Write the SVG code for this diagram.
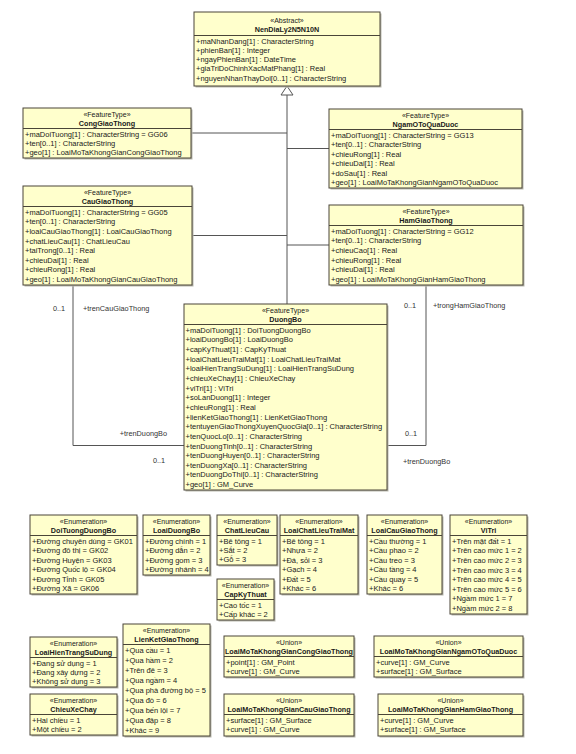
<svg xmlns="http://www.w3.org/2000/svg" width="576" height="754" viewBox="0 0 576 754">
<style>
text{font-family:"Liberation Sans",Arial,"DejaVu Sans",sans-serif;fill:#1a1a1a}
.st{font-size:7px;text-anchor:middle}
.nm{font-size:7.2px;font-weight:bold;text-anchor:middle}
.at{font-size:7.5px}
.lb{font-size:7.3px;fill:#333}
.box{fill:#FFFFCC;stroke:#4a4538;stroke-width:1}
.sh{fill:#b9b9ad}
.dv{stroke:#4a4538;stroke-width:1}
.cn{fill:none;stroke:#555;stroke-width:1}
</style>
<rect width="576" height="754" fill="#fff"/>

<g id="connectors">
<path class="cn" d="M287,95 V304 M191,133 H287 M287,148.5 H329 M192,235.5 H287 M287,245 H329"/>
<polygon points="287,86 281,95 293,95" fill="#fff" stroke="#555" stroke-width="1"/>
<polyline class="cn" points="73,285 73,445.5 184,445.5"/>
<polyline class="cn" points="426,285 426,445.5 387,445.5"/>
<text class="lb" x="53" y="310.5">0..1</text>
<text class="lb" x="83" y="310.5">+trenCauGiaoThong</text>
<text class="lb" x="167" y="435.5" text-anchor="end">+trenDuongBo</text>
<text class="lb" x="153" y="462.5">0..1</text>
<text class="lb" x="404" y="307.5">0..1</text>
<text class="lb" x="433" y="307.5">+trongHamGiaoThong</text>
<text class="lb" x="405" y="435.5">0..1</text>
<text class="lb" x="403" y="463.5">+trenDuongBo</text>
</g>

<g id="NenDiaLy2N5N10N">
<rect class="sh" x="195.5" y="13.5" width="186" height="74"/>
<rect class="box" x="194" y="12" width="186" height="74"/>
<text class="st" x="287" y="22.5">«Abstract»</text>
<text class="nm" x="287" y="32">NenDiaLy2N5N10N</text>
<line class="dv" x1="194" y1="35.5" x2="380" y2="35.5"/>
<text class="at" x="196" y="43.7">+maNhanDang[1] : CharacterString</text>
<text class="at" x="196" y="52.9">+phienBan[1] : Integer</text>
<text class="at" x="196" y="62.1">+ngayPhienBan[1] : DateTime</text>
<text class="at" x="196" y="71.3">+giaTriDoChinhXacMatPhang[1] : Real</text>
<text class="at" x="196" y="80.5">+nguyenNhanThayDoi[0..1] : CharacterString</text>
</g>

<g id="CongGiaoThong">
<rect class="sh" x="24.5" y="109.5" width="168" height="50"/>
<rect class="box" x="23" y="108" width="168" height="50"/>
<text class="st" x="107" y="117">«FeatureType»</text>
<text class="nm" x="107" y="125.6">CongGiaoThong</text>
<line class="dv" x1="23" y1="128.5" x2="191" y2="128.5"/>
<text class="at" x="25" y="136.6">+maDoiTuong[1] : CharacterString = GG06</text>
<text class="at" x="25" y="145.85">+ten[0..1] : CharacterString</text>
<text class="at" x="25" y="155.1">+geo[1] : LoaiMoTaKhongGianCongGiaoThong</text>
</g>

<g id="NgamOToQuaDuoc">
<rect class="sh" x="330.5" y="110.5" width="193" height="79"/>
<rect class="box" x="329" y="109" width="193" height="79"/>
<text class="st" x="425.5" y="118">«FeatureType»</text>
<text class="nm" x="425.5" y="126.6">NgamOToQuaDuoc</text>
<line class="dv" x1="329" y1="129.5" x2="522" y2="129.5"/>
<text class="at" x="331" y="137.6">+maDoiTuong[1] : CharacterString = GG13</text>
<text class="at" x="331" y="147.1">+ten[0..1] : CharacterString</text>
<text class="at" x="331" y="156.6">+chieuRong[1] : Real</text>
<text class="at" x="331" y="166.1">+chieuDai[1] : Real</text>
<text class="at" x="331" y="175.6">+doSau[1] : Real</text>
<text class="at" x="331" y="185.1">+geo[1] : LoaiMoTaKhongGianNgamOToQuaDuoc</text>
</g>

<g id="CauGiaoThong">
<rect class="sh" x="24.5" y="187.5" width="169" height="99"/>
<rect class="box" x="23" y="186" width="169" height="99"/>
<text class="st" x="107.5" y="195">«FeatureType»</text>
<text class="nm" x="107.5" y="203.6">CauGiaoThong</text>
<line class="dv" x1="23" y1="206.5" x2="192" y2="206.5"/>
<text class="at" x="25" y="214.6">+maDoiTuong[1] : CharacterString = GG05</text>
<text class="at" x="25" y="224.2">+ten[0..1] : CharacterString</text>
<text class="at" x="25" y="233.9">+loaiCauGiaoThong[1] : LoaiCauGiaoThong</text>
<text class="at" x="25" y="243.5">+chatLieuCau[1] : ChatLieuCau</text>
<text class="at" x="25" y="253.2">+taiTrong[0..1] : Real</text>
<text class="at" x="25" y="262.8">+chieuDai[1] : Real</text>
<text class="at" x="25" y="272.4">+chieuRong[1] : Real</text>
<text class="at" x="25" y="282.1">+geo[1] : LoaiMoTaKhongGianCauGiaoThong</text>
</g>

<g id="HamGiaoThong">
<rect class="sh" x="330.5" y="206.5" width="194" height="80"/>
<rect class="box" x="329" y="205" width="194" height="80"/>
<text class="st" x="426" y="214">«FeatureType»</text>
<text class="nm" x="426" y="222.6">HamGiaoThong</text>
<line class="dv" x1="329" y1="225.5" x2="523" y2="225.5"/>
<text class="at" x="331" y="233.6">+maDoiTuong[1] : CharacterString = GG12</text>
<text class="at" x="331" y="243.3">+ten[0..1] : CharacterString</text>
<text class="at" x="331" y="253">+chieuCao[1] : Real</text>
<text class="at" x="331" y="262.7">+chieuRong[1] : Real</text>
<text class="at" x="331" y="272.4">+chieuDai[1] : Real</text>
<text class="at" x="331" y="282.1">+geo[1] : LoaiMoTaKhongGianHamGiaoThong</text>
</g>

<g id="DuongBo">
<rect class="sh" x="185.5" y="305.5" width="203" height="186"/>
<rect class="box" x="184" y="304" width="203" height="186"/>
<text class="st" x="285.5" y="313">«FeatureType»</text>
<text class="nm" x="285.5" y="321.6">DuongBo</text>
<line class="dv" x1="184" y1="324.5" x2="387" y2="324.5"/>
<text class="at" x="185.5" y="332.6">+maDoiTuong[1] : DoiTuongDuongBo</text>
<text class="at" x="185.5" y="342.3">+loaiDuongBo[1] : LoaiDuongBo</text>
<text class="at" x="185.5" y="351.9">+capKyThuat[1] : CapKyThuat</text>
<text class="at" x="185.5" y="361.6">+loaiChatLieuTraiMat[1] : LoaiChatLieuTraiMat</text>
<text class="at" x="185.5" y="371.2">+loaiHienTrangSuDung[1] : LoaiHienTrangSuDung</text>
<text class="at" x="185.5" y="380.9">+chieuXeChay[1] : ChieuXeChay</text>
<text class="at" x="185.5" y="390.5">+viTri[1] : ViTri</text>
<text class="at" x="185.5" y="400.2">+soLanDuong[1] : Integer</text>
<text class="at" x="185.5" y="409.9">+chieuRong[1] : Real</text>
<text class="at" x="185.5" y="419.5">+lienKetGiaoThong[1] : LienKetGiaoThong</text>
<text class="at" x="185.5" y="429.2">+tentuyenGiaoThongXuyenQuocGia[0..1] : CharacterString</text>
<text class="at" x="185.5" y="438.8">+tenQuocLo[0..1] : CharacterString</text>
<text class="at" x="185.5" y="448.5">+tenDuongTinh[0..1] : CharacterString</text>
<text class="at" x="185.5" y="458.1">+tenDuongHuyen[0..1] : CharacterString</text>
<text class="at" x="185.5" y="467.8">+tenDuongXa[0..1] : CharacterString</text>
<text class="at" x="185.5" y="477.4">+tenDuongDoThi[0..1] : CharacterString</text>
<text class="at" x="185.5" y="487.1">+geo[1] : GM_Curve</text>
</g>

<g id="DoiTuongDuongBo">
<rect class="sh" x="31.5" y="516.5" width="107" height="79"/>
<rect class="box" x="30" y="515" width="107" height="79"/>
<text class="st" x="83.5" y="524">«Enumeration»</text>
<text class="nm" x="83.5" y="532.6">DoiTuongDuongBo</text>
<line class="dv" x1="30" y1="535.5" x2="137" y2="535.5"/>
<text class="at" x="32" y="543.6">+Đường chuyên dùng = GK01</text>
<text class="at" x="32" y="553.1">+Đường đô thị = GK02</text>
<text class="at" x="32" y="562.6">+Đường Huyện = GK03</text>
<text class="at" x="32" y="572.1">+Đường Quốc lộ = GK04</text>
<text class="at" x="32" y="581.6">+Đường Tỉnh = GK05</text>
<text class="at" x="32" y="591.1">+Đường Xã = GK06</text>
</g>

<g id="LoaiDuongBo">
<rect class="sh" x="144.5" y="516.5" width="67" height="60"/>
<rect class="box" x="143" y="515" width="67" height="60"/>
<text class="st" x="176.5" y="524">«Enumeration»</text>
<text class="nm" x="176.5" y="532.6">LoaiDuongBo</text>
<line class="dv" x1="143" y1="535.5" x2="210" y2="535.5"/>
<text class="at" x="145" y="543.6">+Đường chính = 1</text>
<text class="at" x="145" y="553.1">+Đường dẫn = 2</text>
<text class="at" x="145" y="562.6">+Đường gom = 3</text>
<text class="at" x="145" y="572.1">+Đường nhánh = 4</text>
</g>

<g id="ChatLieuCau">
<rect class="sh" x="218.5" y="516.5" width="60" height="50"/>
<rect class="box" x="217" y="515" width="60" height="50"/>
<text class="st" x="247" y="524">«Enumeration»</text>
<text class="nm" x="247" y="532.6">ChatLieuCau</text>
<line class="dv" x1="217" y1="535.5" x2="277" y2="535.5"/>
<text class="at" x="219" y="543.6">+Bê tông = 1</text>
<text class="at" x="219" y="552.85">+Sắt = 2</text>
<text class="at" x="219" y="562.1">+Gỗ = 3</text>
</g>

<g id="CapKyThuat">
<rect class="sh" x="218.5" y="580.5" width="57" height="41"/>
<rect class="box" x="217" y="579" width="57" height="41"/>
<text class="st" x="245.5" y="588">«Enumeration»</text>
<text class="nm" x="245.5" y="596.6">CapKyThuat</text>
<line class="dv" x1="217" y1="599.5" x2="274" y2="599.5"/>
<text class="at" x="219" y="607.6">+Cao tốc = 1</text>
<text class="at" x="219" y="617.1">+Cấp khác = 2</text>
</g>

<g id="LoaiChatLieuTraiMat">
<rect class="sh" x="281.5" y="516.5" width="78" height="79"/>
<rect class="box" x="280" y="515" width="78" height="79"/>
<text class="st" x="319" y="524">«Enumeration»</text>
<text class="nm" x="319" y="532.6">LoaiChatLieuTraiMat</text>
<line class="dv" x1="280" y1="535.5" x2="358" y2="535.5"/>
<text class="at" x="282" y="543.6">+Bê tông = 1</text>
<text class="at" x="282" y="553.1">+Nhựa = 2</text>
<text class="at" x="282" y="562.6">+Đá, sỏi = 3</text>
<text class="at" x="282" y="572.1">+Gạch = 4</text>
<text class="at" x="282" y="581.6">+Đất = 5</text>
<text class="at" x="282" y="591.1">+Khác = 6</text>
</g>

<g id="LoaiCauGiaoThong">
<rect class="sh" x="368.5" y="516.5" width="75" height="79"/>
<rect class="box" x="367" y="515" width="75" height="79"/>
<text class="st" x="404.5" y="524">«Enumeration»</text>
<text class="nm" x="404.5" y="532.6">LoaiCauGiaoThong</text>
<line class="dv" x1="367" y1="535.5" x2="442" y2="535.5"/>
<text class="at" x="369" y="543.6">+Cầu thường = 1</text>
<text class="at" x="369" y="553.1">+Cầu phao = 2</text>
<text class="at" x="369" y="562.6">+Cầu treo = 3</text>
<text class="at" x="369" y="572.1">+Cầu tầng = 4</text>
<text class="at" x="369" y="581.6">+Cầu quay = 5</text>
<text class="at" x="369" y="591.1">+Khác = 6</text>
</g>

<g id="ViTri">
<rect class="sh" x="451.5" y="516.5" width="77" height="99"/>
<rect class="box" x="450" y="515" width="77" height="99"/>
<text class="st" x="488.5" y="524">«Enumeration»</text>
<text class="nm" x="488.5" y="532.6">ViTri</text>
<line class="dv" x1="450" y1="535.5" x2="527" y2="535.5"/>
<text class="at" x="452" y="543.6">+Trên mặt đất = 1</text>
<text class="at" x="452" y="553.2">+Trên cao mức 1 = 2</text>
<text class="at" x="452" y="562.9">+Trên cao mức 2 = 3</text>
<text class="at" x="452" y="572.5">+Trên cao mức 3 = 4</text>
<text class="at" x="452" y="582.2">+Trên cao mức 4 = 5</text>
<text class="at" x="452" y="591.8">+Trên cao mức 5 = 6</text>
<text class="at" x="452" y="601.4">+Ngầm mức 1 = 7</text>
<text class="at" x="452" y="611.1">+Ngầm mức 2 = 8</text>
</g>

<g id="LoaiHienTrangSuDung">
<rect class="sh" x="31.5" y="638.5" width="87" height="50"/>
<rect class="box" x="30" y="637" width="87" height="50"/>
<text class="st" x="73.5" y="646">«Enumeration»</text>
<text class="nm" x="73.5" y="654.6">LoaiHienTrangSuDung</text>
<line class="dv" x1="30" y1="657.5" x2="117" y2="657.5"/>
<text class="at" x="32" y="665.6">+Đang sử dụng = 1</text>
<text class="at" x="32" y="674.85">+Đang xây dựng = 2</text>
<text class="at" x="32" y="684.1">+Không sử dụng = 3</text>
</g>

<g id="ChieuXeChay">
<rect class="sh" x="31.5" y="695.5" width="87" height="41"/>
<rect class="box" x="30" y="694" width="87" height="41"/>
<text class="st" x="73.5" y="703">«Enumeration»</text>
<text class="nm" x="73.5" y="711.6">ChieuXeChay</text>
<line class="dv" x1="30" y1="714.5" x2="117" y2="714.5"/>
<text class="at" x="32" y="722.6">+Hai chiều = 1</text>
<text class="at" x="32" y="732.1">+Một chiều = 2</text>
</g>

<g id="LienKetGiaoThong">
<rect class="sh" x="124.5" y="625.5" width="87" height="112"/>
<rect class="box" x="123" y="624" width="87" height="112"/>
<text class="st" x="166.5" y="633">«Enumeration»</text>
<text class="nm" x="166.5" y="641.6">LienKetGiaoThong</text>
<line class="dv" x1="123" y1="644.5" x2="210" y2="644.5"/>
<text class="at" x="125" y="652.6">+Qua cầu  = 1</text>
<text class="at" x="125" y="662.7">+Qua hầm = 2</text>
<text class="at" x="125" y="672.7">+Trên đê = 3</text>
<text class="at" x="125" y="682.8">+Qua ngầm = 4</text>
<text class="at" x="125" y="692.9">+Qua phà đường bộ = 5</text>
<text class="at" x="125" y="702.9">+Qua đò = 6</text>
<text class="at" x="125" y="713">+Qua bến lội = 7</text>
<text class="at" x="125" y="723">+Qua đập = 8</text>
<text class="at" x="125" y="733.1">+Khác = 9</text>
</g>

<g id="LoaiMoTaKhongGianCongGiaoThong">
<rect class="sh" x="225.5" y="637.5" width="130" height="41"/>
<rect class="box" x="224" y="636" width="130" height="41"/>
<text class="st" x="289" y="645">«Union»</text>
<text class="nm" x="289" y="653.6">LoaiMoTaKhongGianCongGiaoThong</text>
<line class="dv" x1="224" y1="656.5" x2="354" y2="656.5"/>
<text class="at" x="226" y="664.6">+point[1] : GM_Point</text>
<text class="at" x="226" y="674.1">+curve[1] : GM_Curve</text>
</g>

<g id="LoaiMoTaKhongGianNgamOToQuaDuoc">
<rect class="sh" x="375.5" y="637.5" width="149" height="41"/>
<rect class="box" x="374" y="636" width="149" height="41"/>
<text class="st" x="448.5" y="645">«Union»</text>
<text class="nm" x="448.5" y="653.6">LoaiMoTaKhongGianNgamOToQuaDuoc</text>
<line class="dv" x1="374" y1="656.5" x2="523" y2="656.5"/>
<text class="at" x="376" y="664.6">+curve[1] : GM_Curve</text>
<text class="at" x="376" y="674.1">+surface[1] : GM_Surface</text>
</g>

<g id="LoaiMoTaKhongGianCauGiaoThong">
<rect class="sh" x="225.5" y="695.5" width="130" height="42"/>
<rect class="box" x="224" y="694" width="130" height="42"/>
<text class="st" x="289" y="703">«Union»</text>
<text class="nm" x="289" y="711.6">LoaiMoTaKhongGianCauGiaoThong</text>
<line class="dv" x1="224" y1="714.5" x2="354" y2="714.5"/>
<text class="at" x="226" y="722.6">+surface[1] : GM_Surface</text>
<text class="at" x="226" y="732.1">+curve[1] : GM_Curve</text>
</g>

<g id="LoaiMoTaKhongGianHamGiaoThong">
<rect class="sh" x="379.5" y="695.5" width="145" height="42"/>
<rect class="box" x="378" y="694" width="145" height="42"/>
<text class="st" x="450.5" y="703">«Union»</text>
<text class="nm" x="450.5" y="711.6">LoaiMoTaKhongGianHamGiaoThong</text>
<line class="dv" x1="378" y1="714.5" x2="523" y2="714.5"/>
<text class="at" x="380" y="722.6">+curve[1] : GM_Curve</text>
<text class="at" x="380" y="732.1">+surface[1] : GM_Surface</text>
</g>
</svg>
